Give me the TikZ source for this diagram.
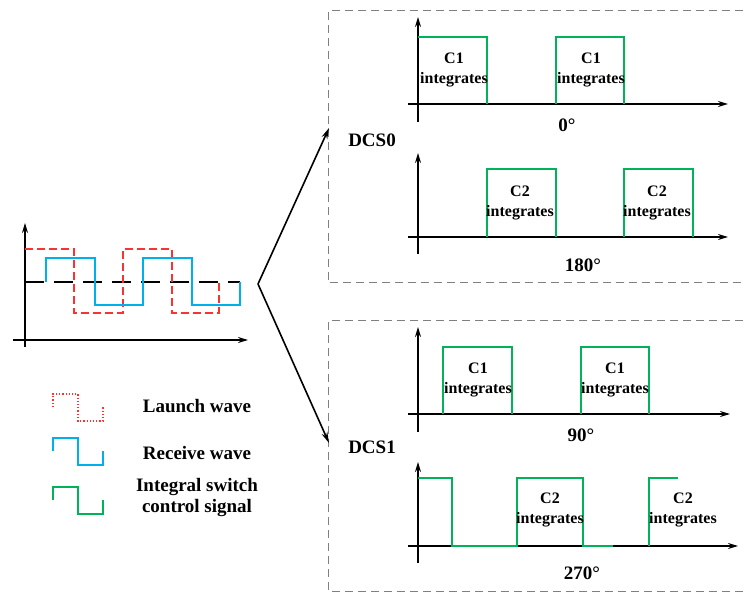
\documentclass[tikz,border=0pt]{standalone}
\usepackage{fontspec}
\setmainfont{Liberation Serif}
\definecolor{swgreen}{RGB}{0,178,90}
\definecolor{rxblue}{RGB}{0,176,235}
\definecolor{txred}{RGB}{250,50,50}
\definecolor{framegray}{RGB}{128,128,128}
\usetikzlibrary{arrows.meta,positioning}
\tikzset{
  axis/.style={black, line width=1.5pt, -{Stealth[length=10pt,width=6pt]}},
  link/.style={black, line width=1.6pt, -{Stealth[length=11pt,width=6pt]}},
  frame/.style={framegray, line width=1pt, dash pattern=on 8pt off 5pt},
  pulse/.style={swgreen, line width=1.5pt},
  biglbl/.style={inner sep=0pt, align=center, font=\fontsize{19}{21}\selectfont\bfseries},
  intlbl/.style={inner sep=0pt, align=center, font=\fontsize{16}{20}\selectfont\bfseries}
}

\begin{document}
\begin{tikzpicture}[x=1pt,y=-1pt]
  \useasboundingbox (0,0) rectangle (744,593);
  % Panel frames
  \draw[frame] (743,11) -- (328,11) -- (328,283) -- (743,283);
  \draw[frame] (743,321) -- (328,321) -- (328,591) -- (743,591);
  % Axes of the four switch plots
  \foreach \yax/\ytop/\ybot/\xend in {104/17/122/728, 237/153/254/728, 414/327/432/730, 546/462/563/738}{
    \draw[axis] (408,\yax) -- (\xend,\yax);
    \draw[axis] (418,\ybot) -- (418,\ytop);
  }
  % Input waves
  \draw[axis] (13,340) -- (248,340);
  \draw[axis] (25,347) -- (25,223);
  \draw[black, line width=1.4pt, dash pattern=on 19pt off 10pt] (25,282) -- (240,282);
  \draw[txred, line width=1.5pt, dash pattern=on 8pt off 4pt] (25,249) -| (74,313) -| (123,249) -| (172,313) -| (219,282);
  \draw[rxblue, line width=1.6pt] (46,282) |- (95,258) |- (143,305) |- (192,258) |- (240,305) -- (240,282);
  % Legend
  \draw[txred, line width=1.2pt, dotted] (53,407) |- (78,394) |- (103,421) -- (103,407);
  \draw[rxblue, line width=1.5pt] (53,451) |- (78,438) |- (103,465) -- (103,451);
  \draw[pulse] (53,500) |- (78,487) |- (103,514) -- (103,500);
  \node[biglbl] (lgtx) at (197,406) {Launch wave};
  \node[biglbl] (lgrx) at (197,453) {Receive wave};
  \node[biglbl] (lgsw) at (197,498) {Integral switch\\control signal};
  % Fork to the two DCS groups
  \coordinate (fork) at (258,284);
  \coordinate (dcs0in) at (329,128);
  \coordinate (dcs1in) at (329,443);
  \draw[link] (fork) -- (dcs0in);
  \draw[link] (fork) -- (dcs1in);
  \node[biglbl] (dcs0) at (372,140) {DCS0};
  \node[biglbl] (dcs1) at (372,447) {DCS1};
  % 0 deg
  \draw[pulse] (418,37) -- (487,37) -- (487,104);
  \draw[pulse] (556,104) |- (624,37) -- (624,104);
  \node[intlbl] (c1a) at (454,70) {C1\\integrates};
  \node[intlbl] (c1b) at (591,70) {C1\\integrates};
  \node[biglbl] (ph0) at (567,125) {0°};
  % 180 deg
  \draw[pulse] (487,237) |- (556,169) -- (556,237);
  \draw[pulse] (624,237) |- (693,169) -- (693,237);
  \node[intlbl] (c2a) at (520,203) {C2\\integrates};
  \node[intlbl] (c2b) at (657,203) {C2\\integrates};
  \node[biglbl] (ph180) at (583,265) {180°};
  % 90 deg
  \draw[pulse] (443,414) |- (512,347) -- (512,414);
  \draw[pulse] (581,414) |- (649,347) -- (649,414);
  \node[intlbl] (c1c) at (478,380) {C1\\integrates};
  \node[intlbl] (c1d) at (615,380) {C1\\integrates};
  \node[biglbl] (ph90) at (581,435) {90°};
  % 270 deg
  \draw[pulse] (418,478) -| (452,546) -- (517,546) |- (583,478) -- (583,546) -- (613,546);
  \draw[pulse] (649,546) |- (678,478);
  \node[intlbl] (c2c) at (550,510) {C2\\integrates};
  \node[intlbl] (c2d) at (683,510) {C2\\integrates};
  \node[biglbl] (ph270) at (582,573) {270°};
\end{tikzpicture}
\end{document}
